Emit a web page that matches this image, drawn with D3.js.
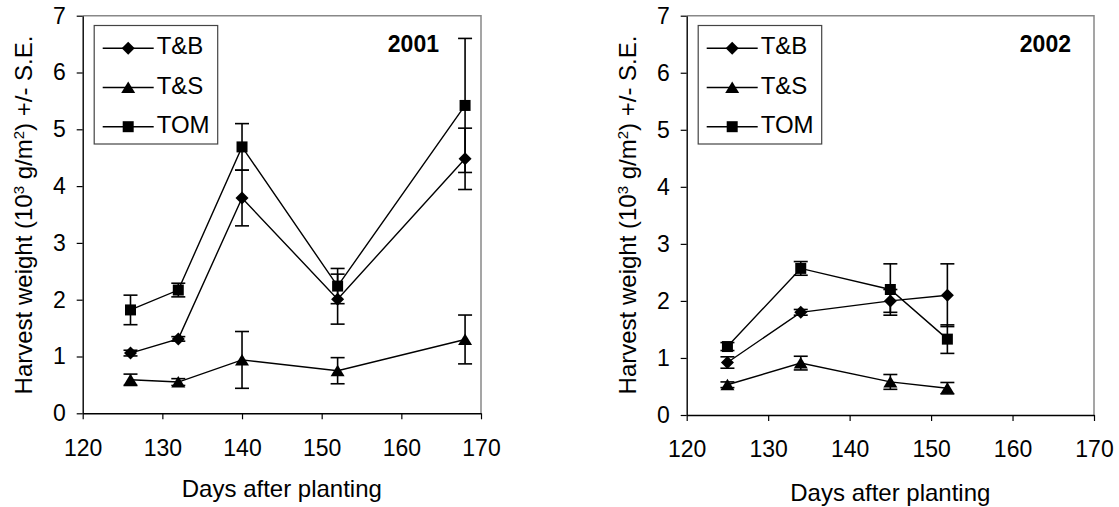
<!DOCTYPE html>
<html>
<head>
<meta charset="utf-8">
<script src="https://cdn.jsdelivr.net/npm/d3@7"></script>
<style>
  body { margin: 0; background: #fff; }
  svg text { font-family: Arial, "Liberation Sans", sans-serif; fill: #000; }
</style>
</head>
<body>
<div id="chart"></div>
<script>
// Data
const seriesNames = ["T&B", "T&S", "TOM"];
const xTicks = [120, 130, 140, 150, 160, 170];
const yTicks = [0, 1, 2, 3, 4, 5, 6, 7];

const days2001 = [126, 132, 140, 152, 168];
const tb2001 = [1.06, 1.31, 3.79, 2.01, 4.48];
const tbSe2001 = [0.05, 0.04, 0.49, 0.44, 0.54];
const ts2001 = [0.59, 0.55, 0.94, 0.75, 1.30];
const tsSe2001 = [0.10, 0.06, 0.50, 0.23, 0.43];
const tom2001 = [1.82, 2.17, 4.69, 2.24, 5.42];
const tomSe2001 = [0.26, 0.12, 0.41, 0.31, 1.18];

const days2002 = [125, 134, 145, 152];
const tb2002 = [0.92, 1.80, 2.00, 2.10];
const tbSe2002 = [0.10, 0.05, 0.20, 0.55];
const ts2002 = [0.53, 0.91, 0.58, 0.47];
const tsSe2002 = [0.05, 0.12, 0.13, 0.10];
const tom2002 = [1.20, 2.57, 2.20, 1.33];
const tomSe2002 = [0.07, 0.12, 0.45, 0.25];

const width = 1119, height = 507;

const svg = d3.select("#chart")
    .append("svg")
    .attr("width", width)
    .attr("height", height);

// marker shapes, centred on the point
const markerPath = {
    "T&B": "M0,-6.5L6.5,0L0,6.5L-6.5,0Z",
    "T&S": "M0,-6L7,5.5L-7,5.5Z",
    "TOM": "M-5.5,-5.5H5.5V5.5H-5.5Z"
};

function drawPanel(p) {
    const x = d3.scaleLinear().domain([120, 170]).range([p.left, p.right]);
    const y = d3.scaleLinear().domain([0, 7]).range([p.bottom, p.top]);

    const g = svg.append("g");

    // plot area border (grey, top and right)
    g.append("path")
        .attr("d", `M${p.left},${p.top}H${p.right}V${p.bottom}`)
        .attr("fill", "none")
        .attr("stroke", "#888")
        .attr("stroke-width", 1.5);

    // axes
    const xAxis = g.append("g")
        .attr("transform", `translate(0,${p.bottom})`)
        .call(d3.axisBottom(x).tickValues(xTicks).tickFormat(d3.format("d"))
            .tickSize(6).tickSizeOuter(0).tickPadding(20));
    const yAxis = g.append("g")
        .attr("transform", `translate(${p.left},0)`)
        .call(d3.axisLeft(y).tickValues(yTicks).tickFormat(d3.format("d"))
            .tickSize(6).tickSizeOuter(0).tickPadding(11));
    [xAxis, yAxis].forEach(a => {
        a.select(".domain").attr("stroke", "#000").attr("stroke-width", 1.4);
        a.selectAll(".tick line").attr("stroke", "#000").attr("stroke-width", 1.2);
        a.selectAll("text").style("font-size", "23px").attr("fill", "#000");
    });

    // axis titles
    g.append("text")
        .attr("x", (p.left + p.right) / 2)
        .attr("y", p.titleY)
        .attr("text-anchor", "middle")
        .style("font-size", "24px")
        .text("Days after planting");

    const yt = g.append("text")
        .attr("transform", `translate(${p.ytitleX},215) rotate(-90)`)
        .attr("text-anchor", "middle")
        .style("font-size", "24px");
    yt.append("tspan").text("Harvest weight (10");
    yt.append("tspan").attr("baseline-shift", "super").style("font-size", "15px").text("3");
    yt.append("tspan").text(" g/m");
    yt.append("tspan").attr("baseline-shift", "super").style("font-size", "15px").text("2");
    yt.append("tspan").text(") +/- S.E.");

    // series
    const line = d3.line().x(d => x(d.day)).y(d => y(d.v));
    p.series.forEach(s => {
        const pts = p.days.map((day, i) => ({ day: day, v: s.values[i], se: s.se[i] }));
        g.append("path")
            .datum(pts)
            .attr("d", line)
            .attr("fill", "none")
            .attr("stroke", "#000")
            .attr("stroke-width", 1.4);
        const eb = g.selectAll(null).data(pts).enter().append("g");
        eb.append("line")
            .attr("x1", d => x(d.day)).attr("x2", d => x(d.day))
            .attr("y1", d => y(d.v - d.se)).attr("y2", d => y(d.v + d.se));
        eb.append("line")
            .attr("x1", d => x(d.day) - 7).attr("x2", d => x(d.day) + 7)
            .attr("y1", d => y(d.v + d.se)).attr("y2", d => y(d.v + d.se));
        eb.append("line")
            .attr("x1", d => x(d.day) - 7).attr("x2", d => x(d.day) + 7)
            .attr("y1", d => y(d.v - d.se)).attr("y2", d => y(d.v - d.se));
        eb.selectAll("line").attr("stroke", "#000").attr("stroke-width", 1.6);
        g.selectAll(null).data(pts).enter().append("path")
            .attr("d", markerPath[s.name])
            .attr("transform", d => `translate(${x(d.day)},${y(d.v)})`)
            .attr("fill", "#000");
    });

    // legend
    const lg = g.append("g");
    lg.append("rect")
        .attr("x", p.left + 11.5).attr("y", 25.5)
        .attr("width", 123.5).attr("height", 118.5)
        .attr("fill", "#fff")
        .attr("stroke", "#444")
        .attr("stroke-width", 1.2);
    seriesNames.forEach((name, i) => {
        const ly = 48.3 + i * 39.2;
        lg.append("line")
            .attr("x1", p.left + 20).attr("x2", p.left + 71)
            .attr("y1", ly).attr("y2", ly)
            .attr("stroke", "#000").attr("stroke-width", 1.4);
        lg.append("path")
            .attr("d", markerPath[name])
            .attr("transform", `translate(${p.left + 45.5},${ly})`)
            .attr("fill", "#000");
        lg.append("text")
            .attr("x", p.left + 74)
            .attr("y", ly + 6)
            .style("font-size", "24px")
            .text(name);
    });

    // year label
    g.append("text")
        .attr("x", p.yearX)
        .attr("y", 52)
        .attr("text-anchor", "end")
        .style("font-size", "23px")
        .style("font-weight", "bold")
        .text(p.year);
}

drawPanel({
    left: 82.7, right: 481, top: 15.7, bottom: 413.3,
    titleY: 497, ytitleX: 32, yearX: 439, year: "2001",
    days: days2001,
    series: [
        { name: "T&B", values: tb2001, se: tbSe2001 },
        { name: "T&S", values: ts2001, se: tsSe2001 },
        { name: "TOM", values: tom2001, se: tomSe2001 }
    ]
});

drawPanel({
    left: 686.7, right: 1094, top: 15.7, bottom: 415,
    titleY: 501, ytitleX: 636, yearX: 1071, year: "2002",
    days: days2002,
    series: [
        { name: "T&B", values: tb2002, se: tbSe2002 },
        { name: "T&S", values: ts2002, se: tsSe2002 },
        { name: "TOM", values: tom2002, se: tomSe2002 }
    ]
});
</script>
</body>
</html>
